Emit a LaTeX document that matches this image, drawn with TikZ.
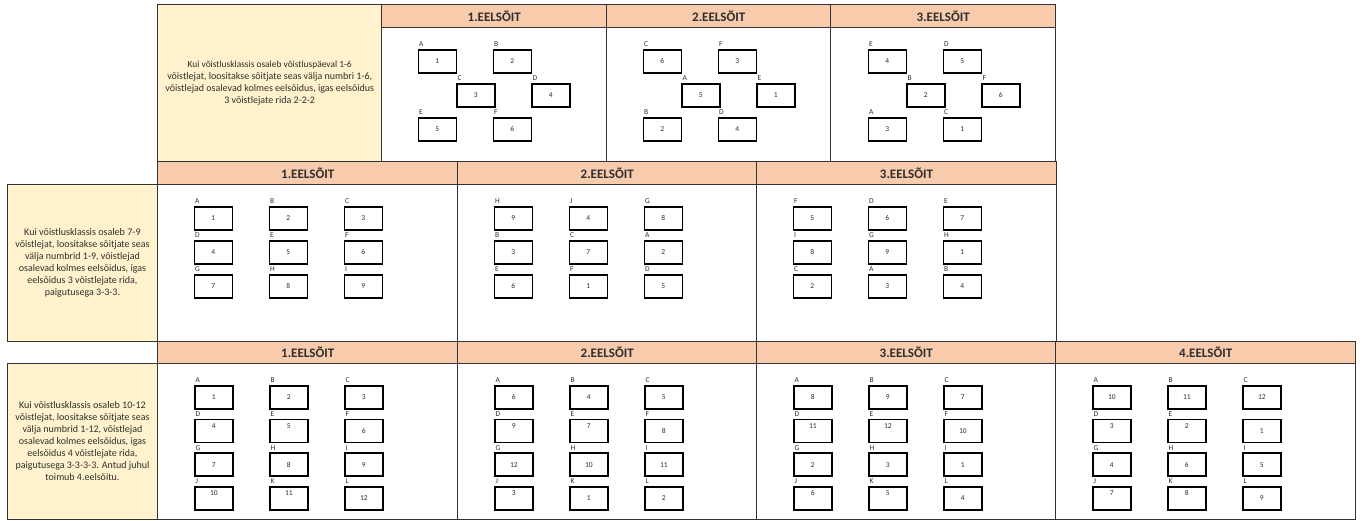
\documentclass[tikz,border=0pt]{standalone}
\usepackage{fontspec}
\setmainfont{Carlito}
\definecolor{peach}{HTML}{F8CBAD}
\definecolor{cream}{HTML}{FFF2CC}
\definecolor{framec}{HTML}{333333}
\definecolor{ink}{HTML}{2E2E2E}
\tikzset{
  headcell/.style={fill=peach, draw=framec, line width=1.4pt, anchor=north west, inner sep=0pt,
    font=\fontsize{13}{15}\selectfont\bfseries, text=ink},
  bodycell/.style={fill=white, draw=framec, line width=1.4pt, anchor=north west, inner sep=0pt},
  desccell/.style={fill=cream, draw=framec, line width=1.4pt, anchor=north west, inner sep=0pt,
    align=center, text=ink},
  slotbox/.style={draw=black, line width=1.7pt, minimum width=38pt, minimum height=23pt,
    inner sep=0pt, anchor=north west},
  slotlab/.style={font=\fontsize{7.5}{8}\selectfont, text=ink, inner sep=0pt, anchor=base west},
  slotnum/.style={font=\fontsize{7.5}{8}\selectfont, text=ink, inner sep=0pt},
}
\newcommand\mkslot[6]{%
  \node[slotbox] (#1) at (#2,#3) {};
  \node[slotlab] (#1l) at ([xshift=1.5pt,yshift=2.3pt]#1.north west) {#4};
  \node[slotnum] (#1n) at ([yshift=#6pt]#1.center) {#5};
}
\begin{document}
\begin{tikzpicture}[x=1pt,y=-1pt]
\useasboundingbox (0,0) rectangle (1363,520);
% ---------------- section 1 ----------------
\node[desccell, minimum width=224pt, minimum height=156.5pt] (d1) at (157,4)
  {\fontsize{9.4}{10.8}\selectfont Kui võistlusklassis osaleb võistluspäeval 1-6\\
   võistlejat, loositakse sõitjate seas välja numbri 1-6,\\
   võistlejad osalevad kolmes eelsõidus, igas eelsõidus\\
   3 võistlejate rida 2-2-2};
\node[headcell, minimum width=225pt, minimum height=23pt] (h11) at (381,4) {1.EELSÕIT};
\node[headcell, minimum width=224pt, minimum height=23pt] (h12) at (606,4) {2.EELSÕIT};
\node[headcell, minimum width=225pt, minimum height=23pt] (h13) at (830,4) {3.EELSÕIT};
\node[bodycell, minimum width=225pt, minimum height=133.5pt] (b11) at (381,27) {};
\node[bodycell, minimum width=224pt, minimum height=133.5pt] (b12) at (606,27) {};
\node[bodycell, minimum width=225pt, minimum height=133.5pt] (b13) at (830,27) {};
\foreach \L/\dx/\y/\l/\n [count=\i] in {
  381/36.5/49/A/1, 381/111.5/49/B/2, 381/75/83/C/3, 381/150/83/D/4, 381/36.5/117/E/5, 381/111.5/117/F/6,
  606/36.5/49/C/6, 606/111.5/49/F/3, 606/75/83/A/5, 606/150/83/E/1, 606/36.5/117/B/2, 606/111.5/117/D/4,
  830/37.5/49/E/4, 830/112.5/49/D/5, 830/76/83/B/2, 830/151/83/F/6, 830/37.5/117/A/3, 830/112.5/117/C/1}
  {\mkslot{sa\i}{\L+\dx}{\y}{\l}{\n}{0}}
% ---------------- section 2 ----------------
\node[desccell, minimum width=150.5pt, minimum height=157pt] (d2) at (6.5,183.5)
  {\fontsize{10.1}{12.8}\selectfont Kui võistlusklassis osaleb 7-9\\
   võistlejat, loositakse sõitjate seas\\
   välja numbrid 1-9, võistlejad\\
   osalevad kolmes eelsõidus, igas\\
   eelsõidus 3 võistlejate rida,\\
   paigutusega 3-3-3.};
\node[headcell, minimum width=300pt, minimum height=22.5pt] (h21) at (157,161) {1.EELSÕIT};
\node[headcell, minimum width=299pt, minimum height=22.5pt] (h22) at (457,161) {2.EELSÕIT};
\node[headcell, minimum width=299.5pt, minimum height=22.5pt] (h23) at (756,161) {3.EELSÕIT};
\node[bodycell, minimum width=300pt, minimum height=157pt] (b21) at (157,183.5) {};
\node[bodycell, minimum width=299pt, minimum height=157pt] (b22) at (457,183.5) {};
\node[bodycell, minimum width=299.5pt, minimum height=157pt] (b23) at (756,183.5) {};
\foreach \L/\c/\r/\l/\n [count=\i] in {
  157/0/0/A/1, 157/1/0/B/2, 157/2/0/C/3, 157/0/1/D/4, 157/1/1/E/5, 157/2/1/F/6, 157/0/2/G/7, 157/1/2/H/8, 157/2/2/I/9,
  457/0/0/H/9, 457/1/0/J/4, 457/2/0/G/8, 457/0/1/B/3, 457/1/1/C/7, 457/2/1/A/2, 457/0/2/E/6, 457/1/2/F/1, 457/2/2/D/5,
  756/0/0/F/5, 756/1/0/D/6, 756/2/0/E/7, 756/0/1/I/8, 756/1/1/G/9, 756/2/1/H/1, 756/0/2/C/2, 756/1/2/A/3, 756/2/2/B/4}
  {\mkslot{sb\i}{\L+36.5+75*\c}{206+34*\r}{\l}{\n}{0}}
% ---------------- section 3 ----------------
\node[desccell, minimum width=150.5pt, minimum height=156.5pt] (d3) at (6.5,362.5)
  {\fontsize{10.1}{12.4}\selectfont Kui võistlusklassis osaleb 10-12\\
   võistlejat, loositakse sõitjate seas\\
   välja numbrid 1-12, võistlejad\\
   osalevad kolmes eelsõidus, igas\\
   eelsõidus 4 võistlejate rida,\\
   paigutusega 3-3-3-3. Antud juhul\\
   toimub 4.eelsõitu.};
\node[headcell, minimum width=300pt, minimum height=21.5pt] (h31) at (157,341) {1.EELSÕIT};
\node[headcell, minimum width=299pt, minimum height=21.5pt] (h32) at (457,341) {2.EELSÕIT};
\node[headcell, minimum width=299pt, minimum height=21.5pt] (h33) at (756,341) {3.EELSÕIT};
\node[headcell, minimum width=300pt, minimum height=21.5pt] (h34) at (1055,341) {4.EELSÕIT};
\node[bodycell, minimum width=300pt, minimum height=156.5pt] (b31) at (157,362.5) {};
\node[bodycell, minimum width=299pt, minimum height=156.5pt] (b32) at (457,362.5) {};
\node[bodycell, minimum width=299pt, minimum height=156.5pt] (b33) at (756,362.5) {};
\node[bodycell, minimum width=300pt, minimum height=156.5pt] (b34) at (1055,362.5) {};
\foreach \L/\c/\r/\l/\n/\u [count=\i] in {
  157/0/0/A/1/0, 157/1/0/B/2/0, 157/2/0/C/3/0, 157/0/1/D/4/5, 157/1/1/E/5/5, 157/2/1/F/6/0,
  157/0/2/G/7/0, 157/1/2/H/8/0, 157/2/2/I/9/0, 157/0/3/J/10/5, 157/1/3/K/11/5, 157/2/3/L/12/0,
  457/0/0/A/6/0, 457/1/0/B/4/0, 457/2/0/C/5/0, 457/0/1/D/9/5, 457/1/1/E/7/5, 457/2/1/F/8/0,
  457/0/2/G/12/0, 457/1/2/H/10/0, 457/2/2/I/11/0, 457/0/3/J/3/5, 457/1/3/K/1/0, 457/2/3/L/2/0,
  756/0/0/A/8/0, 756/1/0/B/9/0, 756/2/0/C/7/0, 756/0/1/D/11/5, 756/1/1/E/12/5, 756/2/1/F/10/0,
  756/0/2/G/2/0, 756/1/2/H/3/0, 756/2/2/I/1/0, 756/0/3/J/6/5, 756/1/3/K/5/5, 756/2/3/L/4/0,
  1055/0/0/A/10/0, 1055/1/0/B/11/0, 1055/2/0/C/12/0, 1055/0/1/D/3/5, 1055/1/1/E/2/5, 1055/2/1//1/0,
  1055/0/2/G/4/0, 1055/1/2/H/6/0, 1055/2/2/I/5/0, 1055/0/3/J/7/5, 1055/1/3/K/8/5, 1055/2/3/L/9/0}
  {\mkslot{sc\i}{\L+37+75*\c}{385+33.7*\r}{\l}{\n}{\u}}
\end{tikzpicture}
\end{document}
